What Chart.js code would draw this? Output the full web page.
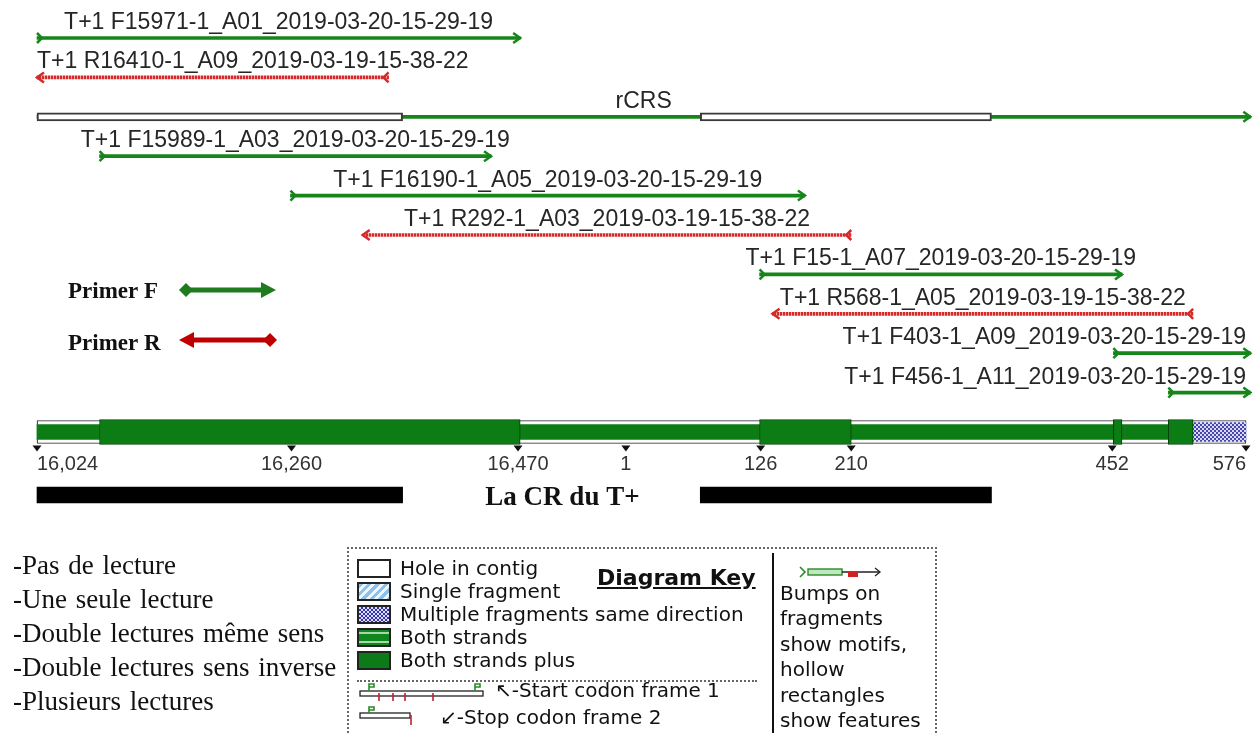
<!DOCTYPE html>
<html>
<head>
<meta charset="utf-8">
<script src="https://cdn.jsdelivr.net/npm/chart.js@4.4.1/dist/chart.umd.min.js"></script>
<style>
  html, body { margin: 0; padding: 0; background: #fff; }
  body { width: 1258px; height: 733px; position: relative; overflow: hidden; }
  #wrap { position: absolute; left: 0; top: 0; width: 1258px; height: 733px; }
  #notes { position: absolute; left: 13px; top: 548px; font: 27px "Liberation Serif", serif;
           line-height: 34px; word-spacing: 2px; color: #111; }
  #key { position: absolute; left: 347px; top: 547px; width: 586px; height: 210px;
         border: 2px dotted #666; font-family: "DejaVu Sans", sans-serif; font-size: 20px;
         color: #111; background: #fff; }
  #key .sw { position: absolute; left: 8px; width: 30px; height: 15px; border: 2px solid #222; }
  #key .t { position: absolute; white-space: nowrap; line-height: 23px; }
  #key .col { position: absolute; left: 431px; top: 32px; line-height: 25.4px; }
  #key svg { position: absolute; }
</style>
</head>
<body>
<div id="wrap"><canvas id="chartCanvas" width="1258" height="733"></canvas></div>

<div id="notes">
  <div>-Pas de lecture</div>
  <div>-Une seule lecture</div>
  <div>-Double lectures même sens</div>
  <div>-Double lectures sens inverse</div>
  <div>-Plusieurs lectures</div>
</div>

<div id="key">
  <div class="sw" style="top:10px;background:#fff"></div>
  <div class="sw" style="top:33px;background:repeating-linear-gradient(135deg,#8fc0ea 0 3px,#eef6ff 3px 6px)"></div>
  <div class="sw" style="top:56px;background:conic-gradient(#3434a6 25%,#dcdcff 0 50%,#3434a6 0 75%,#dcdcff 0);background-size:4px 4px"></div>
  <div class="sw" style="top:79px;background:linear-gradient(#0f8620 0 2px,#a6d8a6 2px 4px,#0f8620 4px 11px,#a6d8a6 11px 13px,#0f8620 13px)"></div>
  <div class="sw" style="top:102px;background:#0c7a18"></div>

  <div class="t" style="left:51px;top:8px">Hole in contig</div>
  <div class="t" style="left:51px;top:31px">Single fragment</div>
  <div class="t" style="left:51px;top:54px">Multiple fragments same direction</div>
  <div class="t" style="left:51px;top:77px">Both strands</div>
  <div class="t" style="left:51px;top:100px">Both strands plus</div>
  <div class="t" style="left:248px;top:17px;font-weight:bold;font-size:22px;text-decoration:underline">Diagram Key</div>

  <div style="position:absolute;left:8px;top:131px;width:400px;border-top:2px dotted #666"></div>

  <svg style="left:8px;top:133px" width="140" height="22">
    <rect x="3" y="9" width="123" height="5" fill="none" stroke="#222" stroke-width="1.3"/>
    <path d="M12 9 V2 h5 v3 h-5" fill="none" stroke="#2a8a2a" stroke-width="1.6"/>
    <path d="M118 9 V2 h5 v3 h-5" fill="none" stroke="#2a8a2a" stroke-width="1.6"/>
    <path d="M22 11 V19 M36 11 V19 M48 11 V19 M76 11 V19" stroke="#c02030" stroke-width="1.6"/>
  </svg>
  <div class="t" style="left:146px;top:130px">↖-Start codon frame 1</div>

  <svg style="left:8px;top:157px" width="90" height="22">
    <rect x="3" y="7" width="50" height="5" fill="none" stroke="#222" stroke-width="1.3"/>
    <path d="M12 7 V1 h5 v3 h-5" fill="none" stroke="#2a8a2a" stroke-width="1.6"/>
    <path d="M54 9 V19" stroke="#c02030" stroke-width="1.6"/>
  </svg>
  <div class="t" style="left:91px;top:157px">↙-Stop codon frame 2</div>

  <div style="position:absolute;left:423px;top:4px;width:2px;height:210px;background:#111"></div>

  <svg style="left:449px;top:13px" width="90" height="20">
    <path d="M2 5 L7 10 L2 15" fill="none" stroke="#2a8a2a" stroke-width="1.6"/>
    <rect x="10" y="7" width="34" height="6" fill="#bfe8bf" stroke="#2a8a2a" stroke-width="1.4"/>
    <path d="M44 10 H82" stroke="#222" stroke-width="1.3"/>
    <rect x="50" y="10" width="10" height="5" fill="#d02020"/>
    <path d="M77 6 L82 10 L77 14" fill="none" stroke="#222" stroke-width="1.3"/>
  </svg>
  <div class="col">
    <div>Bumps on</div>
    <div>fragments</div>
    <div>show motifs,</div>
    <div>hollow</div>
    <div>rectangles</div>
    <div>show features</div>
  </div>
</div>

<script>
// ---- data (positions on the mtDNA, the window wraps past 16569 -> 1) ----
const readNames = [
  "T+1 F15971-1_A01_2019-03-20-15-29-19",
  "T+1 R16410-1_A09_2019-03-19-15-38-22",
  "T+1 F15989-1_A03_2019-03-20-15-29-19",
  "T+1 F16190-1_A05_2019-03-20-15-29-19",
  "T+1 R292-1_A03_2019-03-19-15-38-22",
  "T+1 F15-1_A07_2019-03-20-15-29-19",
  "T+1 R568-1_A05_2019-03-19-15-38-22",
  "T+1 F403-1_A09_2019-03-20-15-29-19",
  "T+1 F456-1_A11_2019-03-20-15-29-19"
];
const readStart  = [16024, 16024, 16082, 16259, 16326, 125, 137, 453, 504];
const readEnd    = [16472, 16350, 16445, 167, 210, 461, 527, 580, 580];
const readStrand = ["F", "R", "F", "F", "R", "F", "R", "F", "F"];
const readRow    = [0, 1, 3, 4, 5, 6, 7, 8, 9];

const refName  = "rCRS";
const refStart = 16024;
const refEnd   = 580;
const refRow   = 2;

// control region blocks (hollow features on rCRS + black bars)
const crStart = [16024, 70];
const crEnd   = [16363, 340];
const crRow   = 11.6;

// consensus coverage
const consStart = [16024, 16082, 16472, 125, 210, 453, 461, 504, 527];
const consEnd   = [16082, 16472, 125, 210, 453, 461, 504, 527, 576];
const consType  = ["both", "plus", "both", "plus", "both", "plus", "both", "plus", "multi"];
const consRow   = 10;

const tickValues = [16024, 16260, 16470, 1, 126, 210, 452, 576];
const tickLabels = ["16,024", "16,260", "16,470", "1", "126", "210", "452", "576"];

const MT_LEN = 16569;
const unroll = p => (p < 16000 ? p + MT_LEN : p);

const GREEN = "#16861a";
const RED = "#d42a2a";
const CONS_GREEN = "#0c7c14";

function makePattern(w, h, draw) {
  const c = document.createElement("canvas");
  c.width = w; c.height = h;
  draw(c.getContext("2d"));
  return c.getContext("2d").createPattern(c, "repeat");
}
const redPattern = makePattern(3, 4, g => {
  g.fillStyle = "#f3a4a4"; g.fillRect(0, 0, 3, 4);
  g.fillStyle = RED; g.fillRect(0, 0, 2, 4);
});
const bluePattern = makePattern(4, 4, g => {
  g.fillStyle = "#d8d8f6"; g.fillRect(0, 0, 4, 4);
  g.fillStyle = "#4646ac"; g.fillRect(0, 0, 2, 2); g.fillRect(2, 2, 2, 2);
});

const span = (s, e, row) => ({ x: [unroll(s), unroll(e)], y: row });
const consOf = type => consStart
  .map((s, i) => consType[i] === type ? span(s, consEnd[i], consRow) : null)
  .filter(Boolean);

// ===============================
// DRAWING HELPERS
// ===============================
function chevron(ctx, tipX, y, dir, len) {
  ctx.beginPath();
  ctx.moveTo(tipX - dir * len, y - 5);
  ctx.lineTo(tipX, y);
  ctx.lineTo(tipX - dir * len, y + 5);
  ctx.stroke();
}

function readLabel(ctx, text, L, R, y, area) {
  ctx.font = '23px "Liberation Sans", Arial, sans-serif';
  ctx.fillStyle = "#262626";
  ctx.textBaseline = "alphabetic";
  ctx.textAlign = "left";
  const w = ctx.measureText(text).width;
  let left = (L + R) / 2 - w / 2;
  if (left < area.left) left = area.left;
  if (left + w > area.right) left = area.right - w;
  ctx.fillText(text, left, y - 9);
}

const diagramPlugin = {
  id: "diagram",
  afterDatasetsDraw(chart) {
    const ctx = chart.ctx;
    const area = chart.chartArea;
    const xs = chart.scales.x;
    const ds = chart.data.datasets;
    ctx.save();
    ctx.lineWidth = 2.5;
    ctx.lineJoin = "miter";

    // reads: tails, arrowheads and names
    const readMeta = chart.getDatasetMeta(ds.findIndex(d => d.label === "reads"));
    readMeta.data.forEach((el, i) => {
      const p = el.getProps(["x", "base", "y"], true);
      const L = Math.min(p.x, p.base), R = Math.max(p.x, p.base), y = p.y;
      ctx.strokeStyle = readStrand[i] === "F" ? GREEN : RED;
      if (readStrand[i] === "F") {
        chevron(ctx, L + 5, y, 1, 5);
        chevron(ctx, R, y, 1, 7);
      } else {
        chevron(ctx, L, y, -1, 7);
        chevron(ctx, R - 5, y, -1, 5);
      }
      readLabel(ctx, readNames[i], L, R, y, area);
    });

    // reference
    const refMeta = chart.getDatasetMeta(ds.findIndex(d => d.label === "ref"));
    refMeta.data.forEach(el => {
      const p = el.getProps(["x", "base", "y"], true);
      const L = Math.min(p.x, p.base), R = Math.max(p.x, p.base);
      ctx.strokeStyle = GREEN;
      chevron(ctx, R, p.y, 1, 7);
      readLabel(ctx, refName, L, R, p.y, area);
    });

    // axis ticks under the consensus
    const consMeta = chart.getDatasetMeta(ds.findIndex(d => d.label === "consBox"));
    const cb = consMeta.data[0].getProps(["y", "height"], true);
    const triTop = cb.y + cb.height / 2 + 2;
    ctx.font = '20px "Liberation Sans", Arial, sans-serif';
    tickValues.forEach((v, i) => {
      const px = xs.getPixelForValue(unroll(v));
      ctx.fillStyle = "#111";
      ctx.beginPath();
      ctx.moveTo(px - 4.5, triTop);
      ctx.lineTo(px + 4.5, triTop);
      ctx.lineTo(px, triTop + 6);
      ctx.closePath();
      ctx.fill();
      ctx.fillStyle = "#333";
      ctx.textAlign = i === 0 ? "left" : (i === tickValues.length - 1 ? "right" : "center");
      ctx.fillText(tickLabels[i], px, triTop + 24);
    });

    // primer key
    ctx.font = 'bold 23px "Liberation Serif", "Times New Roman", serif';
    ctx.textAlign = "left";
    ctx.fillStyle = "#111";
    ctx.fillText("Primer F", 68, 298);
    ctx.fillText("Primer R", 68, 350);

    ctx.lineWidth = 5;
    ctx.strokeStyle = ctx.fillStyle = "#1e7b1e";
    ctx.beginPath(); ctx.moveTo(190, 290); ctx.lineTo(264, 290); ctx.stroke();
    ctx.beginPath(); ctx.moveTo(179, 290); ctx.lineTo(186, 283); ctx.lineTo(193, 290); ctx.lineTo(186, 297); ctx.closePath(); ctx.fill();
    ctx.beginPath(); ctx.moveTo(261, 282); ctx.lineTo(276, 290); ctx.lineTo(261, 298); ctx.closePath(); ctx.fill();

    ctx.strokeStyle = ctx.fillStyle = "#c00000";
    ctx.beginPath(); ctx.moveTo(192, 340); ctx.lineTo(266, 340); ctx.stroke();
    ctx.beginPath(); ctx.moveTo(179, 340); ctx.lineTo(194, 332); ctx.lineTo(194, 348); ctx.closePath(); ctx.fill();
    ctx.beginPath(); ctx.moveTo(263, 340); ctx.lineTo(270, 333); ctx.lineTo(277, 340); ctx.lineTo(270, 347); ctx.closePath(); ctx.fill();

    // control region caption
    const crMeta = chart.getDatasetMeta(ds.findIndex(d => d.label === "cr"));
    const a = crMeta.data[0].getProps(["x", "y"], true);
    const b = crMeta.data[1].getProps(["base"], true);
    ctx.font = 'bold 27px "Liberation Serif", "Times New Roman", serif';
    ctx.fillStyle = "#111";
    ctx.textAlign = "center";
    ctx.fillText("La CR du T+", (a.x + b.base) / 2 + 11, a.y + 10);

    ctx.restore();
  }
};

// ===============================
// CHART
// ===============================
const barDefaults = { grouped: false, borderSkipped: false, clip: false };

new Chart(document.getElementById("chartCanvas"), {
  type: "bar",
  data: {
    datasets: [
      {
        label: "reads",
        data: readStart.map((s, i) => span(s, readEnd[i], readRow[i])),
        backgroundColor: readStrand.map(s => (s === "F" ? GREEN : redPattern)),
        barThickness: 3, order: 1, ...barDefaults
      },
      {
        label: "refFeatures",
        data: crStart.map((s, i) => span(s, crEnd[i], refRow)),
        backgroundColor: "#fff", borderColor: "#3a3a3a", borderWidth: 2,
        barThickness: 8, order: 2, ...barDefaults
      },
      {
        label: "ref",
        data: [span(refStart, refEnd, refRow)],
        backgroundColor: GREEN,
        barThickness: 3, order: 3, ...barDefaults
      },
      {
        label: "consPlus",
        data: consOf("plus"),
        backgroundColor: CONS_GREEN, borderColor: "#063f0a", borderWidth: 1,
        barThickness: 25, order: 4, ...barDefaults
      },
      {
        label: "consMulti",
        data: consOf("multi"),
        backgroundColor: bluePattern,
        barThickness: 19, order: 5, ...barDefaults
      },
      {
        label: "consBoth",
        data: consOf("both"),
        backgroundColor: CONS_GREEN,
        barThickness: 15, order: 6, ...barDefaults
      },
      {
        label: "consBox",
        data: [span(consStart[0], consEnd[consEnd.length - 1], consRow)],
        backgroundColor: "#fff", borderColor: "#333", borderWidth: 1.2,
        barThickness: 23, order: 7, ...barDefaults
      },
      {
        label: "cr",
        data: crStart.map((s, i) => span(s, crEnd[i], crRow)),
        backgroundColor: "#000",
        barThickness: 16, order: 8, ...barDefaults
      }
    ]
  },
  options: {
    indexAxis: "y",
    responsive: false,
    animation: false,
    devicePixelRatio: 1,
    layout: { padding: { top: 18.3, bottom: 25.2, left: 37, right: 12 } },
    scales: {
      x: { type: "linear", min: unroll(16024), max: unroll(576), display: false },
      y: { type: "linear", min: -0.5, max: 17, reverse: true, offset: false, display: false }
    },
    plugins: { legend: { display: false }, tooltip: { enabled: false } }
  },
  plugins: [diagramPlugin]
});
</script>
</body>
</html>
